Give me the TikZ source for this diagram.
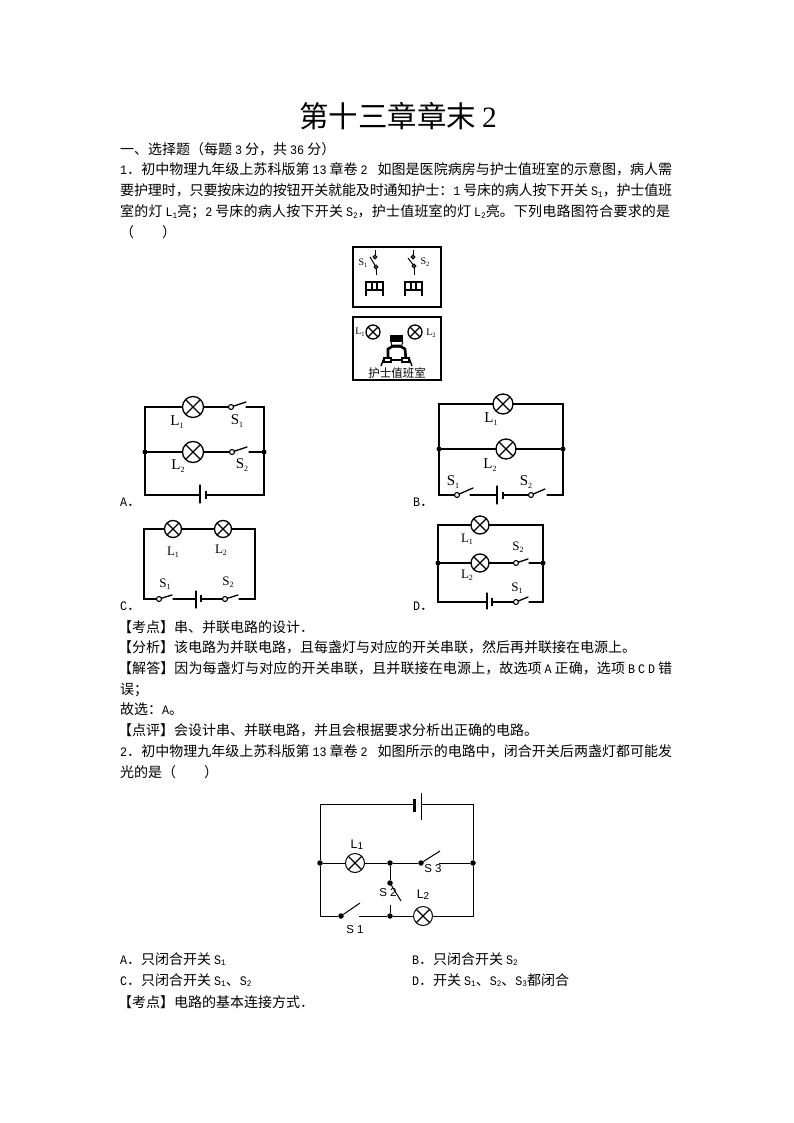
\documentclass[tikz,border=0pt]{standalone}
\usepackage{fontspec}
\setmainfont{Noto Sans CJK SC}
\newfontfamily\latf[FakeStretch=0.9]{Liberation Mono}
\newfontfamily\serf{Liberation Serif}
\newfontfamily\sanf{Liberation Sans}
\XeTeXlinebreaklocale "zh"
\XeTeXlinebreakskip=0pt plus 1pt minus .4pt
\newcommand{\Ltn}[1]{{\fontsize{13}{14}\latf #1}}
\newcommand{\Sbs}[1]{\raisebox{-1.5pt}{\fontsize{8.5}{8.5}\latf #1}}
\newcommand{\Ka}{\kern3pt}
\newcommand{\Cl}[2]{{\serf #1\raisebox{-2.5pt}{\fontsize{8}{8}\selectfont #2}}}
\newcommand{\Pl}[2]{{\fontsize{10}{10}\serf #1\raisebox{-1.5pt}{\fontsize{6.5}{6.5}\selectfont #2}}}
\newcommand{\Jw}[2]{\parbox[t]{#1}{\parfillskip=0pt\relax #2}}
\tikzset{
 txt/.style={anchor=base west,inner sep=0pt,font=\fontsize{14}{20}\selectfont},
 wire/.style={line width=1.3pt,line cap=round,line join=miter},
 thinw/.style={line width=1pt},
 lamp/.style={circle,draw,line width=1.3pt,fill=white,minimum size=#1,inner sep=0pt,outer sep=0pt,
   path picture={\draw[line width=1.2pt] (path picture bounding box.north west)--(path picture bounding box.south east)
     (path picture bounding box.north east)--(path picture bounding box.south west);}},
 jun/.style={circle,fill=black,minimum size=5pt,inner sep=0pt,outer sep=0pt},
 bigjun/.style={circle,fill=black,minimum size=5.5pt,inner sep=0pt,outer sep=0pt},
 con/.style={circle,draw,line width=1.1pt,fill=white,minimum size=5pt,inner sep=0pt,outer sep=0pt},
 clabel/.style={inner sep=0pt,font=\fontsize{15}{15}\selectfont},
 cslabel/.style={inner sep=0pt,font=\fontsize{13}{13}\selectfont},
 slabel/.style={inner sep=0pt,font=\fontsize{11.5}{12}\sanf},
 panel/.style={draw,line width=1.3pt,fill=white,inner sep=0pt,outer sep=0pt},
 plabel/.style={inner sep=0pt},
}
\begin{document}
\begin{tikzpicture}[x=1pt,y=-1pt]
\useasboundingbox (0,0) rectangle (794,1123);
\fill[white] (0,0) rectangle (794,1123);
% title
\node[inner sep=0pt,anchor=base,font=\fontsize{29.5}{30}\selectfont] (title) at (398,128) {第十三章章末\kern6pt{\serf 2}};
% text
\node[txt] (t1) at (120,155) {一、选择题（每题\Ka\Ltn{3}\Ka 分，共\Ka\Ltn{36}\Ka 分）};
\node[txt] (t2) at (120,175) {\Jw{552pt}{\Ltn{1}．初中物理九年级上苏科版第\Ka\Ltn{13}\Ka 章卷\Ka\Ltn{2}\kern10pt 如图是医院病房与护士值班室的示意图，病人需}};
\node[txt] (t3) at (120,196) {\Jw{552pt}{要护理时，只要按床边的按钮开关就能及时通知护士：\Ltn{1}\Ka 号床的病人按下开关\Ka\Ltn{S}\Sbs{1}，护士值班}};
\node[txt] (t4) at (120,217) {\Jw{550pt}{室的灯\Ka\Ltn{L}\Sbs{1}亮；\Ltn{2}\Ka 号床的病人按下开关\Ka\Ltn{S}\Sbs{2}，护士值班室的灯\Ka\Ltn{L}\Sbs{2}亮。下列电路图符合要求的是}};
\node[txt] (t5) at (120,237) {（\kern28pt）};
\node[txt] (t6) at (118,632) {【考点】串、并联电路的设计．};
\node[txt] (t7) at (118,652) {【分析】该电路为并联电路，且每盏灯与对应的开关串联，然后再并联接在电源上。};
\node[txt] (t8) at (118,673) {\Jw{554pt}{【解答】因为每盏灯与对应的开关串联，且并联接在电源上，故选项\Ka\Ltn{A}\Ka 正确，选项\Ka\Ltn{B}\Ka\Ltn{C}\Ka\Ltn{D}\Ka 错}};
\node[txt] (t9) at (120,694) {误；};
\node[txt] (t10) at (120,714) {故选：\Ltn{A}。};
\node[txt] (t11) at (118,735) {【点评】会设计串、并联电路，并且会根据要求分析出正确的电路。};
\node[txt] (t12) at (120,756) {\Jw{552pt}{\Ltn{2}．初中物理九年级上苏科版第\Ka\Ltn{13}\Ka 章卷\Ka\Ltn{2}\kern10pt 如图所示的电路中，闭合开关后两盏灯都可能发}};
\node[txt] (t13) at (120,777) {光的是（\kern28pt）};
\node[txt] (t14) at (120,964) {\Ltn{A}．只闭合开关\Ka\Ltn{S}\Sbs{1}};
\node[txt] (t15) at (412,964) {\Ltn{B}．只闭合开关\Ka\Ltn{S}\Sbs{2}};
\node[txt] (t16) at (120,985) {\Ltn{C}．只闭合开关\Ka\Ltn{S}\Sbs{1}、\Ltn{S}\Sbs{2}};
\node[txt] (t17) at (412,985) {\Ltn{D}．开关\Ka\Ltn{S}\Sbs{1}、\Ltn{S}\Sbs{2}、\Ltn{S}\Sbs{3}都闭合};
\node[txt] (t18) at (118,1007) {【考点】电路的基本连接方式．};
\node[txt] (oa) at (120,506) {\Ltn{A}．};
\node[txt] (ob) at (413,506) {\Ltn{B}．};
\node[txt] (oc) at (120,610) {\Ltn{C}．};
\node[txt] (od) at (413,610) {\Ltn{D}．};

% ---------- panels
\node[panel,minimum width=88pt,minimum height=60pt] (pa) at (397,277) {};
\node[panel,minimum width=88pt,minimum height=63pt] (pb) at (397,348.5) {};
\begin{scope}[line width=1pt]
\node[con,minimum size=3.5pt] (pc1) at (375,257) {};
\node[con,minimum size=3.5pt] (pc2) at (376,267) {};
\node[con,minimum size=3.5pt] (pc3) at (413,257) {};
\node[con,minimum size=3.5pt] (pc4) at (414,266) {};
\coordinate (pt1) at (375,250); \coordinate (pb1) at (376,275);
\coordinate (pt2) at (413,250); \coordinate (pb2) at (414,275);
\coordinate (pk1) at (370,257); \coordinate (pk2) at (408,258);
\draw (pt1)--(pc1); \draw (pc2)--(pb1); \draw (pt2)--(pc3); \draw (pc4)--(pb2);
\draw (pk1)--(pc2); \draw (pk2)--(pc4);
% beds
\draw[line width=1.4pt] (366,296)--(366,282)--(383,282)--(383,296) (366,290)--(383,290) (372,282)--(372,290) (377,282)--(377,290);
\draw[line width=1.4pt] (405,296)--(405,282)--(422,282)--(422,296) (405,290)--(422,290) (411,282)--(411,290) (416,282)--(416,290);
\end{scope}
\node[plabel] (ps1) at (363,263) {\Pl{S}{1}};
\node[plabel] (ps2) at (425,262) {\Pl{S}{2}};
\node[lamp=14pt] (pl1) at (373,332) {};
\node[lamp=14pt] (pl2) at (415,332) {};
\node[plabel] (pn1) at (360,332) {\Pl{L}{1}};
\node[plabel] (pn2) at (431,333) {\Pl{L}{2}};
% nurse figure
\fill[black] (390,335) rectangle (403,342);
\draw[line width=1pt] (391,342) -- (392,347) -- (401,347) -- (403,342);
\draw[line width=2.6pt] (388,360) -- (388,349) -- (393,346) -- (400,346) -- (405,349) -- (406,360);
\draw[line width=1.2pt,fill=white] (384,358) rectangle (391,362);
\draw[line width=1.2pt,fill=white] (402,358) rectangle (409,362);
\draw[line width=1.5pt] (391,360) -- (402,360);
\draw[line width=1.4pt] (384,358) -- (381,366);
\draw[line width=1.4pt] (409,358) -- (412,366);
\node[inner sep=0pt,font=\fontsize{11.5}{12}\selectfont] (pt) at (397,373) {护士值班室};

% ---------- circuit A
\node[lamp=21pt] (al1) at (193,407) {};
\node[lamp=21pt] (al2) at (193,452) {};
\node[con] (as1) at (231,407) {};
\node[con] (as2) at (232,452) {};
\node[jun] (aj1) at (145,452) {};
\node[jun] (aj2) at (264,452) {};
\coordinate (atl) at (145,407); \coordinate (atr) at (264,407);
\coordinate (abl) at (145,495); \coordinate (abr) at (264,495);
\coordinate (ab1) at (246,402); \coordinate (ab2) at (247,447);
\coordinate (ag1) at (246,407); \coordinate (ag2) at (249,452);
\coordinate (ap1a) at (200,485); \coordinate (ap1b) at (200,503);
\coordinate (ap2a) at (206,491); \coordinate (ap2b) at (206,499);
\draw[wire] (aj1)--(atl)--(al1); \draw[wire] (al1)--(as1); \draw[wire] (as1)--(ab1);
\draw[wire] (ag1)--(atr)--(aj2);
\draw[wire] (aj1)--(al2); \draw[wire] (al2)--(as2); \draw[wire] (as2)--(ab2); \draw[wire] (ag2)--(aj2);
\draw[wire] (aj1)--(abl)--(200,495); \draw[wire] (206,495)--(abr)--(aj2);
\draw[wire] (ap1a)--(ap1b); \draw[line width=1.8pt] (ap2a)--(ap2b);
\node[clabel] (an1) at (177,422) {\Cl{L}{1}};
\node[clabel] (an2) at (178,466) {\Cl{L}{2}};
\node[clabel] (an3) at (237,421) {\Cl{S}{1}};
\node[clabel] (an4) at (242,465) {\Cl{S}{2}};

% ---------- circuit B
\node[lamp=20pt] (bl1) at (503,404) {};
\node[lamp=20pt] (bl2) at (506,449) {};
\node[jun] (bj1) at (439,449) {};
\node[jun] (bj2) at (563,449) {};
\node[con] (bs1) at (457,495) {};
\node[con] (bs2) at (531,495) {};
\coordinate (btl) at (439,404); \coordinate (btr) at (563,404);
\coordinate (bbl) at (439,495); \coordinate (bbr) at (563,495);
\coordinate (bb1) at (473,488); \coordinate (bb2) at (545,489);
\coordinate (bg1) at (470,495); \coordinate (bg2) at (547,495);
\draw[wire] (bj1)--(btl)--(bl1); \draw[wire] (bl1)--(btr)--(bj2);
\draw[wire] (bj1)--(bl2); \draw[wire] (bl2)--(bj2);
\draw[wire] (bj1)--(bbl)--(bs1); \draw[wire] (bs1)--(bb1);
\draw[wire] (bg1)--(497,495); \draw[wire] (497,486)--(497,504);
\draw[line width=1.8pt] (503,492)--(503,499);
\draw[wire] (503,495)--(bs2); \draw[wire] (bs2)--(bb2); \draw[wire] (bg2)--(bbr)--(bj2);
\node[clabel] (bn1) at (491,419) {\Cl{L}{1}};
\node[clabel] (bn2) at (490,465) {\Cl{L}{2}};
\node[clabel] (bn3) at (453,482) {\Cl{S}{1}};
\node[clabel] (bn4) at (526,482) {\Cl{S}{2}};

% ---------- circuit C
\node[lamp=17pt] (cl1) at (173,529) {};
\node[lamp=17pt] (cl2) at (223,529) {};
\node[con] (cs1) at (159,599) {};
\node[con] (cs2) at (225,599) {};
\coordinate (ctl) at (144,529); \coordinate (ctr) at (255,529);
\coordinate (cbl) at (144,599); \coordinate (cbr) at (255,599);
\coordinate (cb1) at (172,595); \coordinate (cb2) at (238,595);
\draw[wire] (cs1)--(cbl)--(ctl)--(cl1); \draw[wire] (cl1)--(cl2); \draw[wire] (cl2)--(ctr)--(cbr)--(239,599);
\draw[wire] (cs1)--(cb1); \draw[wire] (cs2)--(cb2);
\draw[wire] (173,599)--(196,599); \draw[wire] (196,591)--(196,608);
\draw[line width=1.6pt] (201,595)--(201,602); \draw[wire] (201,599)--(cs2);
\node[cslabel] (cn1) at (173,552) {\Cl{L}{1}};
\node[cslabel] (cn2) at (221,550) {\Cl{L}{2}};
\node[cslabel] (cn3) at (165,584) {\Cl{S}{1}};
\node[cslabel] (cn4) at (228,582) {\Cl{S}{2}};

% ---------- circuit D
\node[lamp=18pt] (dl1) at (480,525) {};
\node[lamp=18pt] (dl2) at (480,563) {};
\node[jun] (dj1) at (438,563) {};
\node[jun] (dj2) at (543,563) {};
\node[con] (ds1) at (516,563) {};
\node[con] (ds2) at (516,602) {};
\coordinate (dtl) at (438,525); \coordinate (dtr) at (543,525);
\coordinate (dbl) at (438,602); \coordinate (dbr) at (543,602);
\coordinate (db1) at (528,559); \coordinate (db2) at (528,597);
\draw[wire] (dj1)--(dtl)--(dl1); \draw[wire] (dl1)--(dtr)--(dj2);
\draw[wire] (dj1)--(dl2); \draw[wire] (dl2)--(ds1); \draw[wire] (ds1)--(db1); \draw[wire] (529,563)--(dj2);
\draw[wire] (dj1)--(dbl)--(487,602); \draw[wire] (487,593)--(487,609);
\draw[line width=1.6pt] (492,598)--(492,606); \draw[wire] (492,602)--(ds2);
\draw[wire] (ds2)--(db2); \draw[wire] (529,602)--(dbr)--(dj2);
\node[cslabel] (dn1) at (467,539) {\Cl{L}{1}};
\node[cslabel] (dn2) at (467,575) {\Cl{L}{2}};
\node[cslabel] (dn3) at (518,547) {\Cl{S}{2}};
\node[cslabel] (dn4) at (517,588) {\Cl{S}{1}};

% ---------- circuit 2
\node[lamp=19pt,line width=1pt] (el1) at (355,863) {};
\node[lamp=19pt,line width=1pt] (el2) at (423,916) {};
\node[bigjun] (ej1) at (320,863) {};
\node[bigjun] (ej2) at (390,863) {};
\node[bigjun] (ej3) at (473,863) {};
\node[bigjun] (es3) at (421,863) {};
\node[bigjun] (es2) at (390,883) {};
\node[bigjun] (ej4) at (390,916) {};
\node[bigjun] (es1) at (341,916) {};
\coordinate (etl) at (320,804); \coordinate (etr) at (473,804);
\coordinate (ebl) at (320,916); \coordinate (ebr) at (473,916);
\coordinate (eb3) at (440,851); \coordinate (eb2) at (401,901); \coordinate (eb1) at (360,903);
\draw[thinw] (ej1)--(etl)--(414,804); \draw[thinw] (421,804)--(etr)--(ej3);
\draw[line width=3pt] (414,799)--(414,812); \draw[thinw] (421,793)--(421,820);
\draw[thinw] (ej1)--(el1); \draw[thinw] (el1)--(ej2); \draw[thinw] (ej2)--(es3); \draw[thinw] (es3)--(eb3); \draw[thinw] (439,863)--(ej3);
\draw[thinw] (ej2)--(es2); \draw[thinw] (es2)--(eb2); \draw[thinw] (390,905)--(ej4);
\draw[thinw] (ej1)--(ebl)--(es1); \draw[thinw] (es1)--(eb1); \draw[thinw] (359,916)--(ej4); \draw[thinw] (ej4)--(el2); \draw[thinw] (el2)--(ebr)--(ej3);
\node[slabel,font=\fontsize{12.5}{13}\sanf] (en1) at (357,845) {L\raisebox{-1pt}{\fontsize{10}{10}\selectfont 1}};
\node[slabel,font=\fontsize{12.5}{13}\sanf] (en2) at (423,895) {L\raisebox{-1pt}{\fontsize{10}{10}\selectfont 2}};
\node[slabel] (en3) at (433,869) {S 3};
\node[slabel] (en4) at (388,893) {S 2};
\node[slabel] (en5) at (355,930) {S 1};
\end{tikzpicture}
\end{document}
